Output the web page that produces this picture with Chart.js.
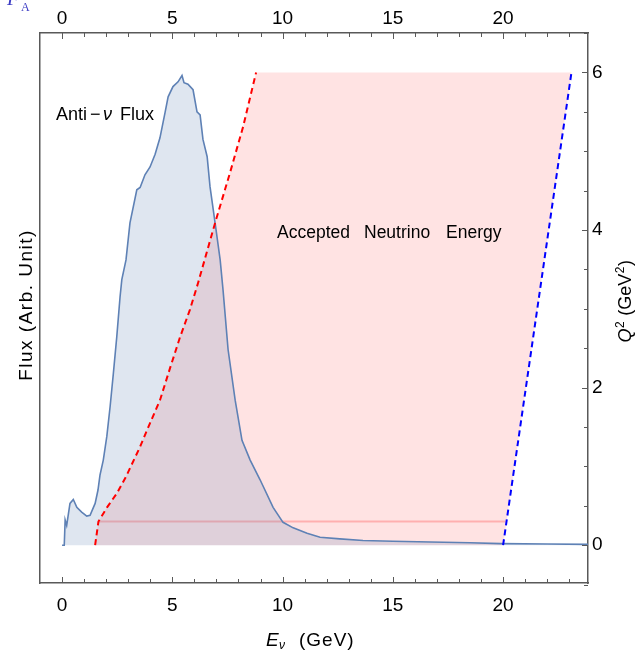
<!DOCTYPE html>
<html>
<head>
<meta charset="utf-8">
<script src="https://cdn.jsdelivr.net/npm/chart.js@4.4.1/dist/chart.umd.min.js"></script>
<style>
  html, body { margin: 0; padding: 0; background: #fff; }
  canvas { display: block; }
</style>
</head>
<body>
<canvas id="fluxChart" width="639" height="651"></canvas>
<script>
// anti-neutrino flux (arb. units, drawn on the Q^2 scale)
const fluxE = [0, 0.1, 0.14, 0.21, 0.36, 0.51, 0.67, 0.89, 1.12, 1.27, 1.5, 1.63, 1.72, 1.87, 2.03, 2.18, 2.33, 2.48, 2.63, 2.71,
  2.9, 3.08, 3.39, 3.54, 3.76, 3.99, 4.22, 4.44, 4.67, 4.81, 5.03, 5.26, 5.44, 5.53, 5.71, 5.94, 6.12, 6.26, 6.39, 6.58,
  6.71, 6.94, 7.17, 7.30, 7.53, 7.85, 8.16, 8.53, 8.98, 9.57, 10.02, 10.48, 11.11, 11.7, 12.6, 13.65, 15, 16.7, 18.5, 19.9, 22, 24];
const fluxVal = [0, 0, 0.32, 0.25, 0.53, 0.58, 0.48, 0.42, 0.37, 0.38, 0.53, 0.70, 0.89, 1.08, 1.38, 1.76, 2.19, 2.64, 3.15, 3.37,
  3.62, 4.09, 4.51, 4.54, 4.70, 4.80, 4.96, 5.17, 5.49, 5.69, 5.82, 5.88, 5.96, 5.87, 5.85, 5.78, 5.50, 5.46, 5.15, 4.93,
  4.55, 4.09, 3.62, 3.24, 2.48, 1.84, 1.33, 1.08, 0.83, 0.48, 0.29, 0.22, 0.15, 0.10, 0.08, 0.06, 0.05, 0.04, 0.03, 0.02, 0.015, 0.01];

// red dashed edge of the accepted region
const accE = [1.5, 1.65, 2.04, 2.49, 2.90, 3.54, 3.99, 4.44, 4.90, 5.35, 5.80, 6.17, 6.94, 7.62, 8.21, 8.80];
const accQ2 = [0, 0.30, 0.48, 0.66, 0.87, 1.25, 1.55, 1.84, 2.25, 2.64, 2.99, 3.33, 4.09, 4.73, 5.31, 6.0];

// blue dashed cut
const cutE = [20, 23.1];
const cutQ2 = [0, 6];

// faint floor line
const floorE = [1.65, 20.1];
const floorQ2 = [0.3, 0.3];

const xTicks = [0, 5, 10, 15, 20];
const xMinorTicks = [0, 1, 2, 3, 4, 5, 6, 7, 8, 9, 10, 11, 12, 13, 14, 15, 16, 17, 18, 19, 20, 21, 22, 23];
const qTicks = [0, 2, 4, 6];
const qMinorTicks = [-0.5, 0, 0.5, 1, 1.5, 2, 2.5, 3, 3.5, 4, 4.5, 5, 5.5, 6, 6.5];

const zip = (xs, ys) => xs.map((x, i) => ({ x: x, y: ys[i] }));

const regionPts = zip(accE, accQ2).concat([
  { x: cutE[1], y: cutQ2[1] },
  { x: cutE[0], y: cutQ2[0] },
]);

const frameColor = "#595959";
const tickFont = { family: "'Liberation Sans', Arial, sans-serif", size: 19 };

// inward ticks, labels and annotations
const decorations = {
  id: "decorations",
  afterDraw(chart) {
    const ctx = chart.ctx;
    const area = chart.chartArea;
    const xs = chart.scales.x;
    const ys = chart.scales.y;

    ctx.save();
    ctx.strokeStyle = frameColor;
    ctx.lineWidth = 1;
    ctx.beginPath();
    xMinorTicks.forEach((v) => {
      const len = xTicks.includes(v) ? 6 : 4;
      const px = Math.round(xs.getPixelForValue(v)) + 0.5;
      ctx.moveTo(px, area.bottom);
      ctx.lineTo(px, area.bottom - len);
      ctx.moveTo(px, area.top);
      ctx.lineTo(px, area.top + len);
    });
    qMinorTicks.forEach((v) => {
      const len = qTicks.includes(v) ? 6 : 4;
      const py = Math.round(ys.getPixelForValue(v)) + 0.5;
      ctx.moveTo(area.right, py);
      ctx.lineTo(area.right - len, py);
    });
    ctx.stroke();

    ctx.fillStyle = "#000";
    ctx.textAlign = "left";
    ctx.textBaseline = "alphabetic";
    const sans = "'Liberation Sans', Arial, sans-serif";

    // Anti-nu Flux
    ctx.font = "18px " + sans;
    ctx.fillText("Anti", 56, 120);
    ctx.fillText("\u2212", 90, 120);
    ctx.font = "italic 18px " + sans;
    ctx.fillText("\u03bd", 103, 120);
    ctx.font = "18px " + sans;
    ctx.fillText("Flux", 120, 120);

    // Accepted Neutrino Energy
    ctx.font = "17.5px " + sans;
    ctx.fillText("Accepted", 277, 238);
    ctx.fillText("Neutrino", 364, 238);
    ctx.fillText("Energy", 446, 238);

    // bottom title
    ctx.font = "italic 19px " + sans;
    ctx.fillText("E", 266, 646);
    ctx.font = "italic 12px " + sans;
    ctx.fillText("\u03bd", 279, 649);
    ctx.font = "19px " + sans;
    ctx.letterSpacing = "1px";
    ctx.fillText("(GeV)", 299, 646);
    ctx.letterSpacing = "0px";

    // left title
    ctx.save();
    ctx.translate(31.5, 305);
    ctx.rotate(-Math.PI / 2);
    ctx.textAlign = "center";
    ctx.font = "19px " + sans;
    ctx.letterSpacing = "1.5px";
    ctx.fillText("Flux (Arb. Unit)", 0, 0);
    ctx.letterSpacing = "0px";
    ctx.restore();

    // right title Q^2 (GeV^2)
    ctx.save();
    ctx.translate(631, 301);
    ctx.rotate(-Math.PI / 2);
    const parts = [
      ["Q", "italic 18px " + sans, 0],
      ["2", "12px " + sans, -7],
      [" (GeV", "18px " + sans, 0],
      ["2", "12px " + sans, -7],
      [")", "18px " + sans, 0],
    ];
    let total = 0;
    parts.forEach((p) => { ctx.font = p[1]; total += ctx.measureText(p[0]).width + 0.5; });
    let cx = -total / 2;
    parts.forEach((p) => {
      ctx.font = p[1];
      ctx.fillText(p[0], cx, p[2]);
      cx += ctx.measureText(p[0]).width + 0.5;
    });
    ctx.restore();

    // clipped caption fragment at the top-left corner
    ctx.fillStyle = "#3c3cc4";
    ctx.font = "italic 20px 'Liberation Serif', serif";
    ctx.fillText("F", 7, 5);
    ctx.font = "12px 'Liberation Serif', serif";
    ctx.fillText("A", 21, 10.5);

    ctx.restore();
  },
};

const ctx = document.getElementById("fluxChart").getContext("2d");

new Chart(ctx, {
  type: "line",
  data: {
    datasets: [
      {
        label: "Accepted region",
        data: regionPts,
        fill: "shape",
        backgroundColor: "rgba(255, 0, 0, 0.11)",
        borderWidth: 0,
        pointRadius: 0,
        order: 5,
      },
      {
        label: "Floor",
        data: zip(floorE, floorQ2),
        borderColor: "rgba(255, 80, 80, 0.35)",
        borderWidth: 2,
        pointRadius: 0,
        fill: false,
        order: 4,
      },
      {
        label: "Anti-nu Flux",
        data: zip(fluxE, fluxVal),
        borderColor: "#5e81b5",
        backgroundColor: "rgba(94, 129, 181, 0.2)",
        borderWidth: 1.6,
        pointRadius: 0,
        fill: "origin",
        order: 3,
      },
      {
        label: "Cut",
        data: zip(cutE, cutQ2),
        borderColor: "#0000ff",
        borderWidth: 2,
        borderDash: [6, 4],
        pointRadius: 0,
        fill: false,
        order: 2,
      },
      {
        label: "Edge",
        data: zip(accE, accQ2),
        borderColor: "#ff0000",
        borderWidth: 2,
        borderDash: [6, 4],
        pointRadius: 0,
        fill: false,
        order: 1,
      },
    ],
  },
  options: {
    responsive: false,
    animation: false,
    events: [],
    layout: { padding: 0 },
    elements: { line: { tension: 0 } },
    plugins: {
      legend: { display: false },
      tooltip: { enabled: false },
    },
    scales: {
      x: {
        type: "linear",
        position: "bottom",
        min: -1,
        max: 23.85,
        afterBuildTicks: (s) => { s.ticks = xTicks.map((v) => ({ value: v })); },
        afterFit: (s) => { s.height = 68; },
        ticks: { font: tickFont, color: "#000", padding: 11, maxRotation: 0, autoSkip: false },
        grid: { display: false, drawTicks: false },
        border: { display: true, color: frameColor, width: 1.5 },
      },
      x2: {
        type: "linear",
        position: "top",
        min: -1,
        max: 23.85,
        afterBuildTicks: (s) => { s.ticks = xTicks.map((v) => ({ value: v })); },
        afterFit: (s) => { s.height = 33; },
        ticks: { font: tickFont, color: "#000", padding: 3, maxRotation: 0, autoSkip: false },
        grid: { display: false, drawTicks: false },
        border: { display: true, color: frameColor, width: 1.5 },
      },
      y: {
        type: "linear",
        position: "right",
        min: -0.48,
        max: 6.5,
        afterBuildTicks: (s) => { s.ticks = qTicks.map((v) => ({ value: v })); },
        afterFit: (s) => { s.width = 51; },
        ticks: { font: tickFont, color: "#000", padding: 4 },
        grid: { display: false, drawTicks: false },
        border: { display: true, color: frameColor, width: 1.5 },
      },
      yFlux: {
        type: "linear",
        position: "left",
        min: 0,
        max: 1,
        afterFit: (s) => { s.width = 40; },
        ticks: { display: false },
        grid: { display: false, drawTicks: false },
        border: { display: true, color: frameColor, width: 1.5 },
      },
    },
  },
  plugins: [decorations],
});
</script>
</body>
</html>
